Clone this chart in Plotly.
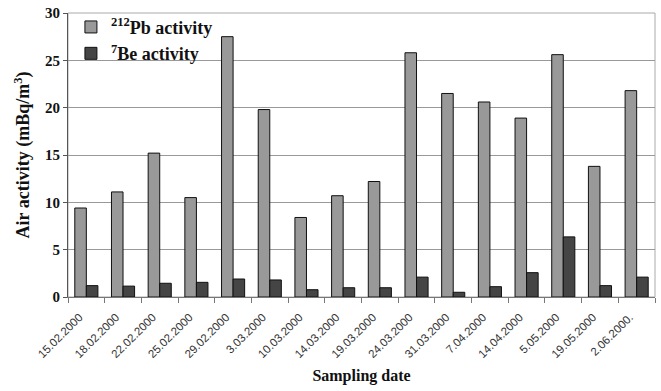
import plotly.graph_objects as go

dates = ["15.02.2000", "18.02.2000", "22.02.2000", "25.02.2000", "29.02.2000",
         "3.03.2000", "10.03.2000", "14.03.2000", "19.03.2000", "24.03.2000",
         "31.03.2000", "7.04.2000", "14.04.2000", "5.05.2000", "19.05.2000", "2.06.2000."]
pb212 = [9.4, 11.1, 15.2, 10.5, 27.5, 19.8, 8.4, 10.7, 12.2, 25.8,
         21.5, 20.6, 18.9, 25.6, 13.8, 21.8]
be7 = [1.2, 1.15, 1.45, 1.55, 1.9, 1.8, 0.77, 0.98, 0.98, 2.1,
       0.5, 1.09, 2.57, 6.35, 1.2, 2.1]

serif = "Liberation Serif"

fig = go.Figure()
fig.add_trace(go.Bar(x=dates, y=pb212, name="<b><sup>212</sup>Pb activity</b>",
                     marker=dict(color="#999999", line=dict(color="#111111", width=1))))
fig.add_trace(go.Bar(x=dates, y=be7, name="<b><sup>7</sup>Be activity</b>",
                     marker=dict(color="#454545", line=dict(color="#111111", width=1))))

fig.update_layout(
    width=661, height=391,
    margin=dict(l=68, r=6, t=13, b=94, autoexpand=False),
    paper_bgcolor="white", plot_bgcolor="white",
    barmode="group", bargap=0.37, bargroupgap=0,
    showlegend=True,
    legend=dict(x=0.005, y=1.015, xanchor="left", yanchor="top",
                bgcolor="rgba(255,255,255,0)",
                font=dict(family=serif, size=18, color="#111111"),
                tracegroupgap=0),
    xaxis=dict(
        type="category", tickangle=-45, tickson="boundaries", automargin=False,
        ticks="outside", ticklen=5, tickcolor="#777777",
        ticklabelshift=-7, ticklabelstandoff=8,
        tickfont=dict(family="Liberation Sans", size=11.5, color="#333333"),
        showline=True, linecolor="#777777", linewidth=1, mirror=False,
        showgrid=False,
        title=dict(text="<b>Sampling date</b>", font=dict(family=serif, size=16, color="#111111"),
                   standoff=10),
    ),
    yaxis=dict(
        range=[0, 30], dtick=5, automargin=False,
        ticks="outside", ticklen=4, tickcolor="#555555",
        tickfont=dict(family=serif, size=15, color="#111111", weight="bold"),
        showline=True, linecolor="#555555", linewidth=1,
        showgrid=True, gridcolor="#999999", gridwidth=1,
        zeroline=False,
        title=dict(text="<b>Air activity (mBq/m<sup>3</sup>)</b>",
                   font=dict(family=serif, size=18, color="#111111"), standoff=10),
    ),
)
fig.add_shape(type="rect", xref="paper", yref="paper", x0=0, y0=0, x1=1, y1=1,
              line=dict(color="#aaaaaa", width=1), layer="below")

fig.write_html("out.html", config={"displayModeBar": False},
               post_script="document.body.style.margin='0';")
